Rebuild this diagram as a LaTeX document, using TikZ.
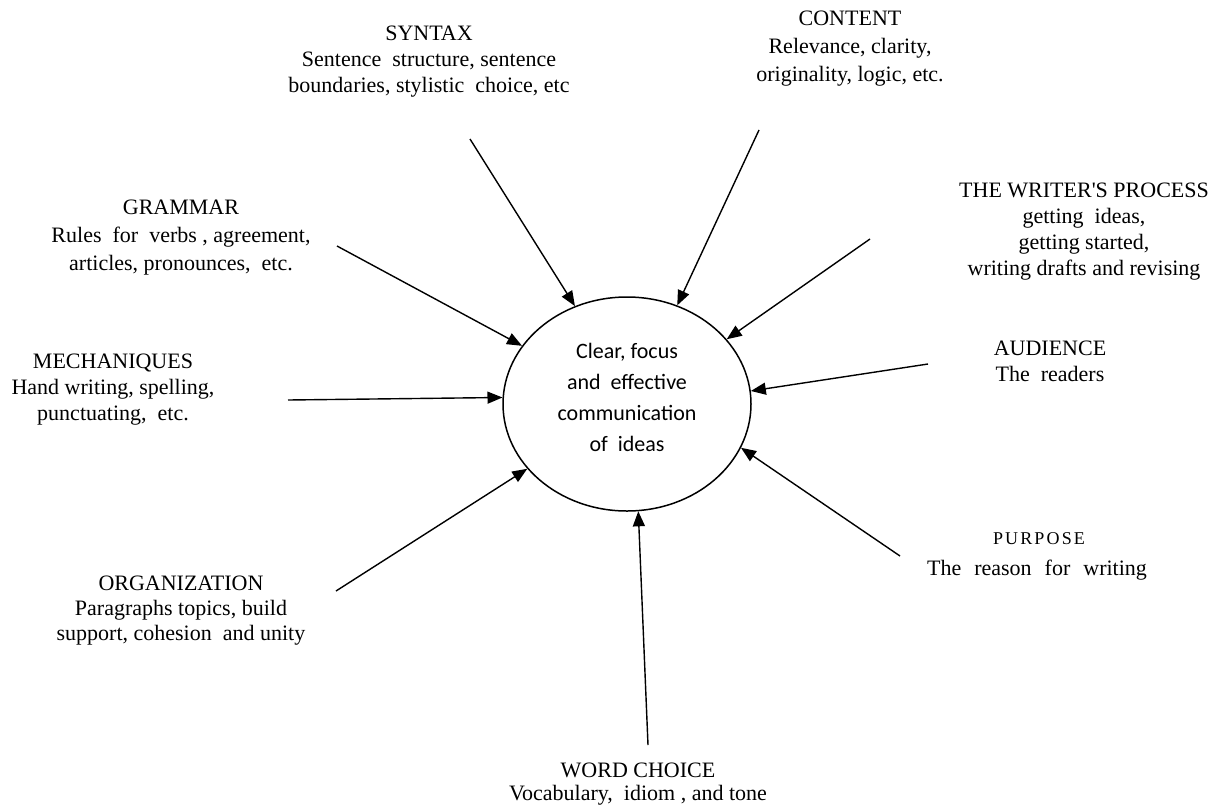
\documentclass[tikz,border=0pt]{standalone}
\usepackage{fontspec}
\setmainfont{Liberation Serif}
\newfontfamily\calibfont{Carlito}
\newfontfamily\straightfont{Liberation Serif}[Ligatures=TeXOff]
\newfontfamily\purfont{Liberation Serif}[LetterSpace=12]
\usetikzlibrary{arrows.meta,shapes.geometric}
\begin{document}
\begin{tikzpicture}[x=1pt,y=-1pt,
  lbl/.style={anchor=north, inner sep=0pt, align=center, font=\fontsize{22}{26}\selectfont},
  arr/.style={line width=1.4pt, -{Triangle[length=15pt,width=12pt]}},
]
\useasboundingbox (0,0) rectangle (1220,809);

% centre
\node[draw, ellipse, line width=1.5pt, minimum width=248pt, minimum height=214pt, inner sep=0pt] (ell) at (627,404) {};
\node[anchor=north, align=center, inner sep=0pt, font=\calibfont\fontsize{22}{31}\selectfont] (ctext) at (627,343) {Clear, focus\\and~ effective\\communication\\of~ ideas};

% labels
\node[lbl] (syn) at (429,25.5) {SYNTAX\\Sentence~ structure, sentence\\boundaries, stylistic~ choice, etc};
\node[lbl, font=\fontsize{22}{28}\selectfont] (con) at (850,10.5) {CONTENT\\Relevance, clarity,\\originality, logic, etc.};
\node[lbl] (wri) at (1084,182.5) {THE WRITER{\straightfont '}S PROCESS\\getting~ ideas,\\getting started,\\writing drafts and revising};
\node[lbl, font=\fontsize{22}{28}\selectfont] (gra) at (181,199.5) {GRAMMAR\\Rules~ for~ verbs , agreement,\\articles, pronounces,~ etc.};
\node[lbl] (mec) at (113,353.5) {MECHANIQUES\\Hand writing, spelling,\\punctuating,~ etc.};
\node[lbl, font=\fontsize{22}{25}\selectfont] (org) at (181,575.5) {ORGANIZATION\\Paragraphs topics, build\\support, cohesion~ and unity};
\node[lbl, font=\fontsize{22}{23}\selectfont] (wor) at (638,762.5) {WORD CHOICE\\Vocabulary,~ idiom , and tone};
\node[lbl] (aud) at (1050,340.5) {AUDIENCE\\The~ readers};
\node[anchor=base, inner sep=0pt, font=\purfont\fontsize{18}{20}\selectfont] (purt) at (1039,544) {PURPOSE};
\node[anchor=base, inner sep=0pt, font=\fontsize{22}{26}\selectfont] (purb) at (1037,575) {The\hspace{13pt}reason\hspace{13pt}for\hspace{13pt}writing};

% arrow starts
\coordinate (sSyn) at (470,139);
\coordinate (sCon) at (759,130);
\coordinate (sWri) at (870,239);
\coordinate (sAud) at (928,364);
\coordinate (sPur) at (900,556);
\coordinate (sWor) at (648,745);
\coordinate (sOrg) at (336,591);
\coordinate (sMec) at (288,400);
\coordinate (sGra) at (337,246);

\draw[arr] (sSyn) -- (ell.118.2);
\draw[arr] (sCon) -- (ell.63.9);
\draw[arr] (sWri) -- (ell.33.7);
\draw[arr] (sAud) -- (ell.6.8);
\draw[arr] (sPur) -- (ell.-21.7);
\draw[arr] (sWor) -- (ell.-84.7);
\draw[arr] (sOrg) -- (ell.213.6);
\draw[arr] (sMec) -- (ell.177.7);
\draw[arr] (sGra) -- (ell.151.1);
\end{tikzpicture}
\end{document}
